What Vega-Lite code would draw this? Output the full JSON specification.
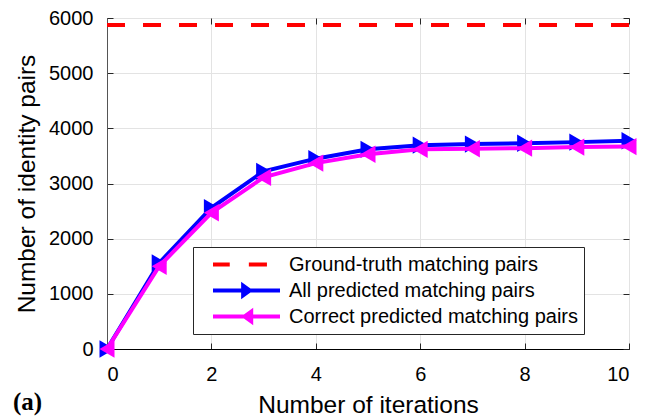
{
  "$schema": "https://vega.github.io/schema/vega-lite/v6.json",
  "width": 522,
  "height": 331,
  "autosize": "none",
  "padding": {"left": 107, "top": 18, "right": 16, "bottom": 70},
  "background": "white",
  "config": {
    "view": {"stroke": "#262626", "strokeWidth": 1},
    "font": "Liberation Sans",
    "axis": {
      "labelFont": "Liberation Sans",
      "titleFont": "Liberation Sans",
      "labelFontSize": 20,
      "titleFontSize": 24.5,
      "titleFontWeight": "normal",
      "labelColor": "black",
      "titleColor": "black",
      "domainColor": "#262626",
      "tickColor": "#262626",
      "gridColor": "#e3e3e3",
      "gridWidth": 1,
      "tickSize": -6,
      "tickWidth": 1
    }
  },
  "title": {
    "text": "(a)",
    "orient": "bottom",
    "anchor": "start",
    "frame": "group",
    "dx": -94,
    "offset": -27,
    "font": "Liberation Serif",
    "fontSize": 25,
    "fontWeight": "bold",
    "color": "black"
  },
  "data": {
    "values": [
      {"series": "Ground-truth matching pairs", "iter": 0, "value": 5873},
      {"series": "All predicted matching pairs", "iter": 0, "value": 0},
      {"series": "All predicted matching pairs", "iter": 1, "value": 1560},
      {"series": "All predicted matching pairs", "iter": 2, "value": 2560},
      {"series": "All predicted matching pairs", "iter": 3, "value": 3220},
      {"series": "All predicted matching pairs", "iter": 4, "value": 3450},
      {"series": "All predicted matching pairs", "iter": 5, "value": 3620},
      {"series": "All predicted matching pairs", "iter": 6, "value": 3695},
      {"series": "All predicted matching pairs", "iter": 7, "value": 3715},
      {"series": "All predicted matching pairs", "iter": 8, "value": 3730},
      {"series": "All predicted matching pairs", "iter": 9, "value": 3750},
      {"series": "All predicted matching pairs", "iter": 10, "value": 3775},
      {"series": "Correct predicted matching pairs", "iter": 0, "value": 0},
      {"series": "Correct predicted matching pairs", "iter": 1, "value": 1500},
      {"series": "Correct predicted matching pairs", "iter": 2, "value": 2470},
      {"series": "Correct predicted matching pairs", "iter": 3, "value": 3110},
      {"series": "Correct predicted matching pairs", "iter": 4, "value": 3370},
      {"series": "Correct predicted matching pairs", "iter": 5, "value": 3530},
      {"series": "Correct predicted matching pairs", "iter": 6, "value": 3620},
      {"series": "Correct predicted matching pairs", "iter": 7, "value": 3630},
      {"series": "Correct predicted matching pairs", "iter": 8, "value": 3640},
      {"series": "Correct predicted matching pairs", "iter": 9, "value": 3660},
      {"series": "Correct predicted matching pairs", "iter": 10, "value": 3670}
    ]
  },
  "resolve": {"axis": {"x": "independent", "y": "independent"}},
  "layer": [
    {
      "transform": [{"filter": "datum.series === 'All predicted matching pairs'"}],
      "mark": {"type": "line", "color": "#0000ff", "strokeWidth": 4},
      "encoding": {
        "x": {"field": "iter", "type": "quantitative",
              "scale": {"domain": [0, 10], "nice": false, "zero": false},
              "axis": {"orient": "bottom", "values": [0, 2, 4, 6, 8, 10], "title": "Number of iterations", "labelPadding": 21, "titlePadding": 9, "domainColor": "#000000", "grid": true}},
        "y": {"field": "value", "type": "quantitative",
              "scale": {"domain": [0, 6000], "nice": false},
              "axis": {"orient": "left", "values": [0, 1000, 2000, 3000, 4000, 5000, 6000], "format": "d", "title": "Number of identity pairs", "labelPadding": 20, "titlePadding": 9, "grid": true, "domainColor": "#555555"}}
      }
    },
    {
      "transform": [{"filter": "datum.series === 'Ground-truth matching pairs'"}],
      "mark": {"type": "rule", "color": "#ff0000", "strokeWidth": 4, "strokeDash": [18, 18]},
      "encoding": {
        "y": {"field": "value", "type": "quantitative",
              "axis": {"orient": "right", "values": [0, 1000, 2000, 3000, 4000, 5000, 6000], "labels": false, "title": null, "grid": false, "domain": false}}
      }
    },
    {
      "transform": [{"filter": "datum.series === 'All predicted matching pairs'"}],
      "mark": {"type": "point", "shape": "triangle-right", "filled": true, "color": "#0000ff", "size": 300, "opacity": 1},
      "encoding": {
        "x": {"field": "iter", "type": "quantitative",
              "axis": {"orient": "top", "values": [0, 2, 4, 6, 8, 10], "labels": false, "title": null, "grid": false, "domain": false}},
        "y": {"field": "value", "type": "quantitative", "axis": null}
      }
    },
    {
      "transform": [{"filter": "datum.series === 'Correct predicted matching pairs'"}],
      "mark": {"type": "line", "color": "#ff00ff", "strokeWidth": 4},
      "encoding": {
        "x": {"field": "iter", "type": "quantitative", "axis": null},
        "y": {"field": "value", "type": "quantitative", "axis": null}
      }
    },
    {
      "transform": [{"filter": "datum.series === 'Correct predicted matching pairs'"}],
      "mark": {"type": "point", "shape": "triangle-left", "filled": true, "color": "#ff00ff", "size": 300, "opacity": 1},
      "encoding": {
        "x": {"field": "iter", "type": "quantitative", "axis": null},
        "y": {"field": "value", "type": "quantitative", "axis": null}
      }
    },
    {
      "transform": [{"filter": "datum.iter === 0"}],
      "mark": {"type": "point", "filled": true, "size": 0, "strokeWidth": 0},
      "encoding": {
        "x": {"field": "iter", "type": "quantitative", "axis": null},
        "y": {"field": "value", "type": "quantitative", "axis": null},
        "color": {"field": "series", "type": "nominal",
          "scale": {"domain": ["Ground-truth matching pairs", "All predicted matching pairs", "Correct predicted matching pairs"],
                    "range": ["#ff0000", "#0000ff", "#ff00ff"]},
          "legend": {
            "title": null,
            "orient": "none",
            "legendX": 86,
            "legendY": 229,
            "padding": 5,
            "strokeColor": "#262626",
            "fillColor": "white",
            "labelFont": "Liberation Sans",
            "labelFontSize": 20,
            "labelColor": "black",
            "labelLimit": 0,
            "symbolSize": 4489,
            "symbolStrokeWidth": 0,
            "symbolOpacity": 1,
            "symbolOffset": 15,
            "labelOffset": 9,
            "clipHeight": 25,
            "rowPadding": 1
          }
        },
        "shape": {"field": "series", "type": "nominal",
          "scale": {"domain": ["Ground-truth matching pairs", "All predicted matching pairs", "Correct predicted matching pairs"],
                    "range": [
                      "M-1,-0.06H-0.5V0.06H-1Z M0.07,-0.06H0.61V0.06H0.07Z M10.6,0",
                      "M-1,-0.06H1V0.06H-1Z M-0.16,-0.26L0.2,0L-0.16,0.26Z M10.6,0",
                      "M-1,-0.06H1V0.06H-1Z M0.2,-0.26L0.2,0.26L-0.16,0Z M10.6,0"
                    ]},
          "legend": {
            "title": null,
            "orient": "none",
            "legendX": 86,
            "legendY": 229,
            "padding": 5,
            "strokeColor": "#262626",
            "fillColor": "white",
            "labelFont": "Liberation Sans",
            "labelFontSize": 20,
            "labelColor": "black",
            "labelLimit": 0,
            "symbolSize": 4489,
            "symbolStrokeWidth": 0,
            "symbolOpacity": 1,
            "symbolOffset": 15,
            "labelOffset": 9,
            "clipHeight": 25,
            "rowPadding": 1
          }
        }
      }
    }
  ]
}
